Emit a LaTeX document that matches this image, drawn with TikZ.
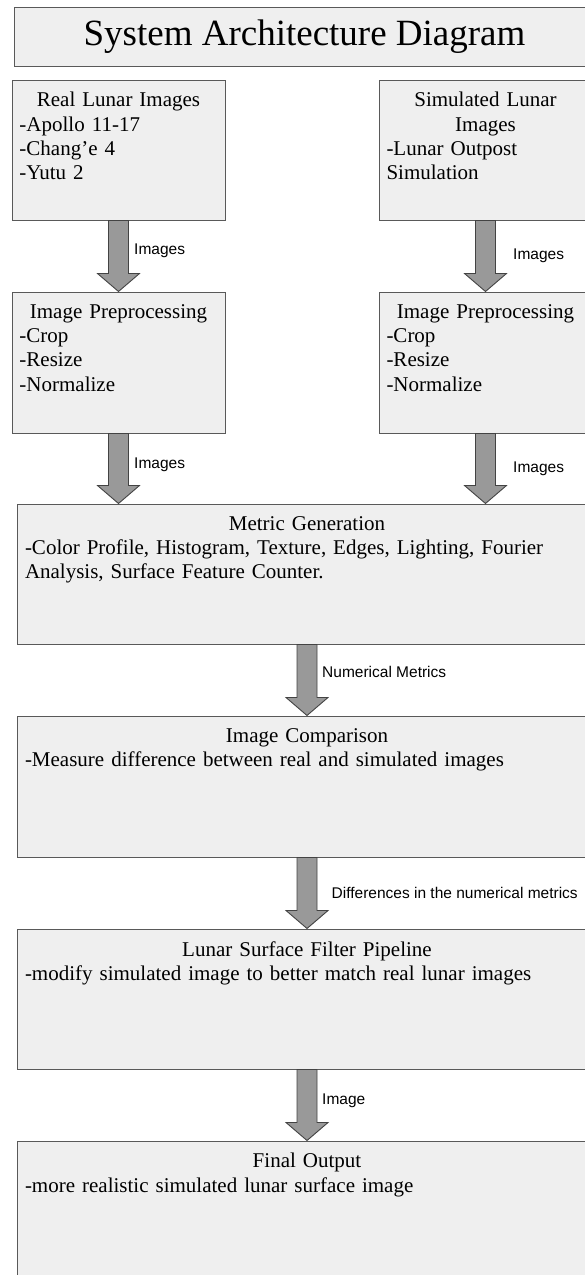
\documentclass[tikz,border=0pt]{standalone}
\usepackage{fontspec}
\setmainfont{Liberation Serif}
\newfontfamily\arrowfont{Liberation Sans}
\usetikzlibrary{positioning,calc}

\definecolor{boxfill}{HTML}{EFEFEF}
\definecolor{boxline}{HTML}{595959}
\definecolor{arrowfill}{HTML}{999999}
\definecolor{arrowline}{HTML}{434343}

\tikzset{
  box/.style={draw=boxline,fill=boxfill,line width=1pt,rectangle,inner sep=0pt},
  smallbox/.style={box,minimum width=213pt,minimum height=140pt},
  widebox/.style={box,minimum width=580pt,minimum height=140pt},
  boxtext/.style={inner sep=0pt,align=left,font=\fontsize{21}{24.3}\selectfont},
  arrowlabel/.style={inner sep=0pt,anchor=west,font=\arrowfont\fontsize{15.5}{18}\selectfont},
  bigarrow/.style={draw=arrowline,fill=arrowfill,line width=0.9pt,line join=miter}
}

% fat arrow from #1 down to #2
\newcommand{\fatarrow}[2]{%
  \draw[bigarrow] let \p1=(#1), \p2=(#2) in
    ({\x1-10pt},\y1) -- ({\x1-10pt},{\y2+18pt}) -- ({\x1-21pt},{\y2+18pt}) -- (\x1,\y2)
    -- ({\x1+21pt},{\y2+18pt}) -- ({\x1+10pt},{\y2+18pt}) -- ({\x1+10pt},\y1) -- cycle;}

\begin{document}
\begin{tikzpicture}[x=1pt,y=-1pt]
  \useasboundingbox (0,0) rectangle (584,1275);
  % title
  \node[box,minimum width=581pt,minimum height=59pt,font=\fontsize{37}{40}\selectfont]
    (title) at (304.5,36.5) {System Architecture Diagram};
  % boxes
  \node[smallbox] (real) at (118.5,150) {};
  \node[smallbox] (sim)  at (485.5,150) {};
  \node[smallbox,minimum height=141pt] (preL) at (118.5,362.5) {};
  \node[smallbox,minimum height=141pt] (preR) at (485.5,362.5) {};
  \node[widebox] (metric) at (307,574) {};
  \node[widebox,minimum height=141pt] (compare) at (307,786.5) {};
  \node[widebox] (filter) at (307,999) {};
  \node[widebox,minimum height=141pt] (final) at (307,1211.5) {};
  % box texts
  \node[boxtext,text width=198pt,below=12.7pt of real.north] (realtxt)
    {{\centering Real Lunar Images\par}-Apollo 11-17\\-Chang'e 4\\-Yutu 2};
  \node[boxtext,text width=198pt,below=12.7pt of sim.north] (simtxt)
    {{\centering Simulated Lunar\\Images\par}-Lunar Outpost\\Simulation};
  \node[boxtext,text width=198pt,below=12.7pt of preL.north] (preLtxt)
    {{\centering Image Preprocessing\par}-Crop\\-Resize\\-Normalize};
  \node[boxtext,text width=198pt,below=12.7pt of preR.north] (preRtxt)
    {{\centering Image Preprocessing\par}-Crop\\-Resize\\-Normalize};
  \node[boxtext,text width=564pt,below=12.7pt of metric.north] (metrictxt)
    {{\centering Metric Generation\par}-Color Profile, Histogram, Texture, Edges, Lighting, Fourier\\Analysis, Surface Feature Counter.};
  \node[boxtext,text width=564pt,below=12.7pt of compare.north] (comparetxt)
    {{\centering Image Comparison\par}-Measure difference between real and simulated images};
  \node[boxtext,text width=564pt,below=12.7pt of filter.north] (filtertxt)
    {{\centering Lunar Surface Filter Pipeline\par}-modify simulated image to better match real lunar images};
  \node[boxtext,text width=564pt,below=12.7pt of final.north] (finaltxt)
    {{\centering Final Output\par}-more realistic simulated lunar surface image};
  % arrows
  \fatarrow{real.south}{preL.north}
  \fatarrow{sim.south}{preR.north}
  \fatarrow{preL.south}{preL.south |- metric.north}
  \fatarrow{preR.south}{preR.south |- metric.north}
  \fatarrow{metric.south}{compare.north}
  \fatarrow{compare.south}{filter.north}
  \fatarrow{filter.south}{final.north}
  % arrow labels
  \node[arrowlabel] (lblA) at (134,251) {Images};
  \node[arrowlabel] (lblB) at (513,256) {Images};
  \node[arrowlabel] (lblC) at (134,465) {Images};
  \node[arrowlabel] (lblD) at (513,469) {Images};
  \node[arrowlabel] (lblE) at (322,672) {Numerical Metrics};
  \node[arrowlabel] (lblF) at (331.5,893) {Differences in the numerical metrics};
  \node[arrowlabel] (lblG) at (322,1101) {Image};
\end{tikzpicture}
\end{document}
